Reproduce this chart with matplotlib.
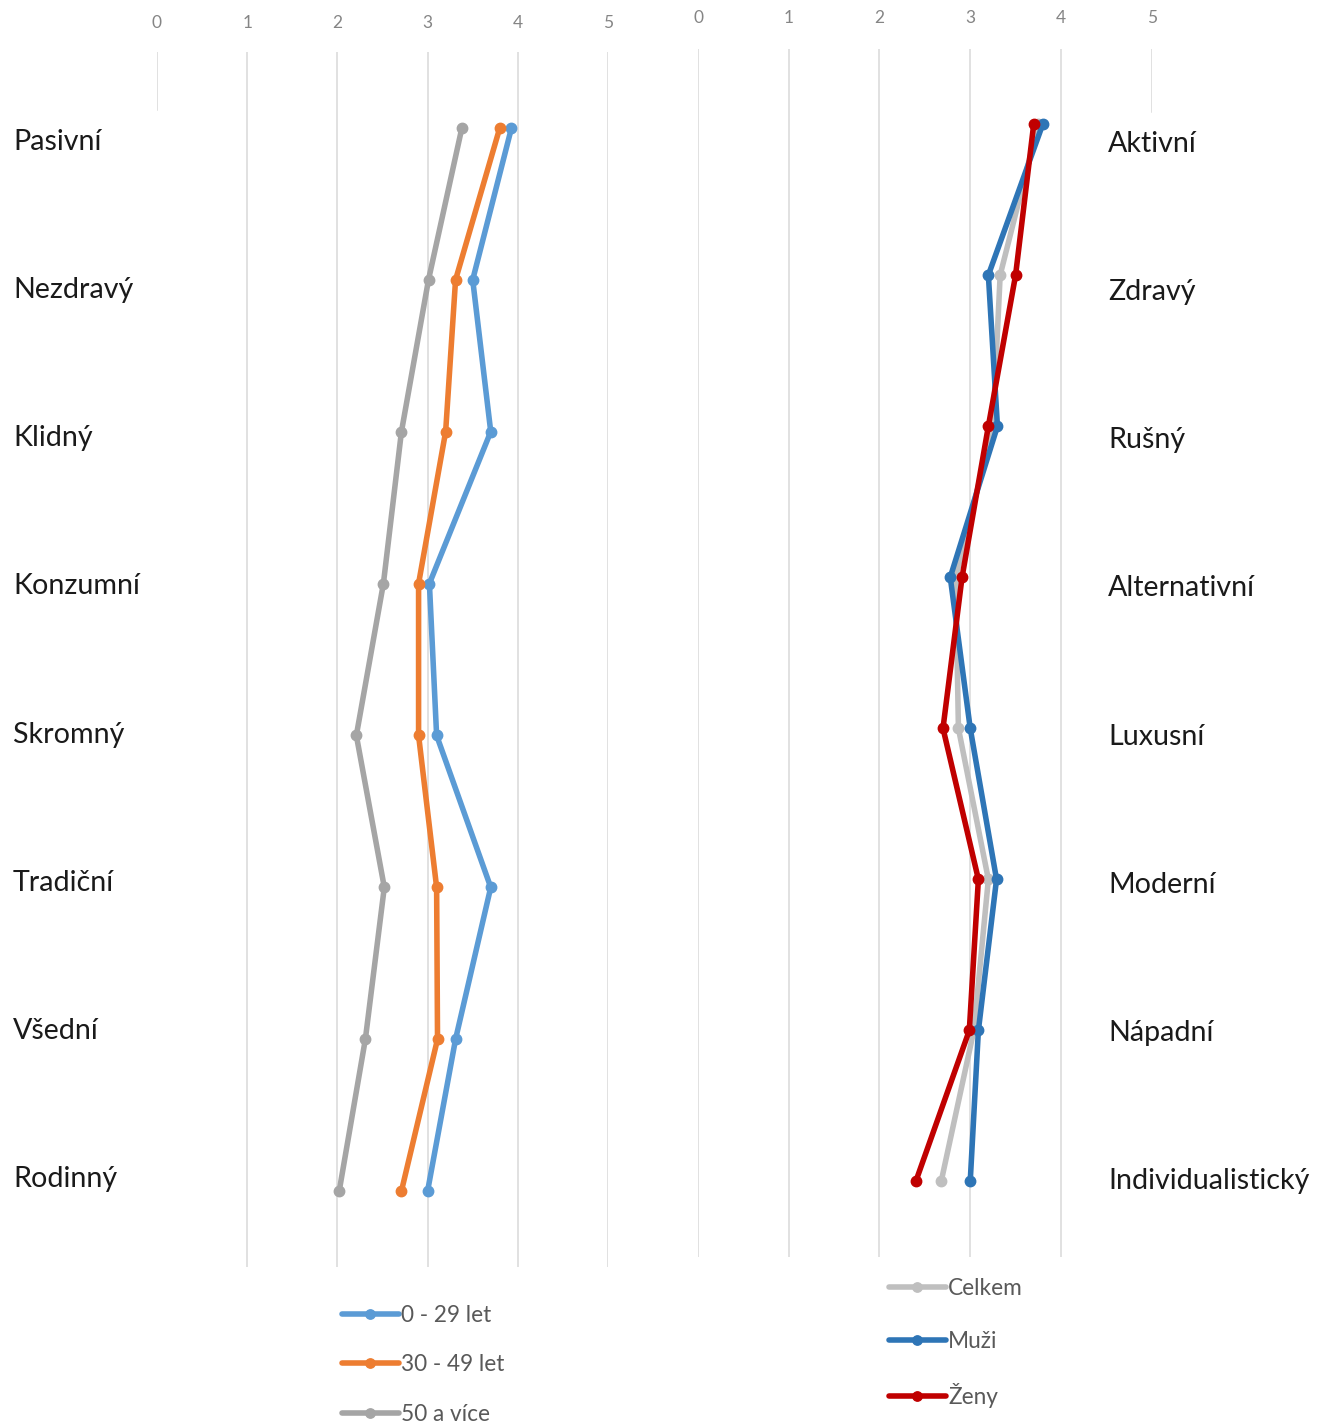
import numpy as np
import matplotlib
matplotlib.use('Agg')
import matplotlib.pyplot as plt

plt.rcParams['font.family'] = ['Lato', 'DejaVu Sans']

# left chart - age groups
left_labels = ['Pasivní', 'Nezdravý', 'Klidný', 'Konzumní', 'Skromný', 'Tradiční', 'Všední', 'Rodinný']
age_0_29 = [3.93, 3.50, 3.70, 3.02, 3.10, 3.70, 3.31, 3.00]
age_30_49 = [3.80, 3.31, 3.20, 2.90, 2.90, 3.10, 3.11, 2.71]
age_50 = [3.38, 3.01, 2.71, 2.51, 2.21, 2.52, 2.31, 2.02]

# right chart - gender
right_labels = ['Aktivní', 'Zdravý', 'Rušný', 'Alternativní', 'Luxusní', 'Moderní', 'Nápadní', 'Individualistický']
celkem = [3.75, 3.33, 3.25, 2.84, 2.87, 3.20, 3.04, 2.68]
muzi = [3.80, 3.20, 3.30, 2.78, 3.00, 3.29, 3.09, 3.00]
zeny = [3.70, 3.50, 3.20, 2.91, 2.70, 3.09, 2.99, 2.40]

ticks = [0, 1, 2, 3, 4, 5]

W, H = 1329, 1423
fig = plt.figure(figsize=(W / 100, H / 100), dpi=100)
fig.patch.set_facecolor('white')

grid_col = '#D9D9D9'
tick_col = '#858585'
leg_col = '#595959'


def setup_axes(ax, short_tick, short_frac, pad):
    ax.set_xlim(0, 5)
    ax.set_ylim(7.5, -0.5)
    for s in ax.spines.values():
        s.set_visible(False)
    ax.set_yticks([])
    ax.xaxis.tick_top()
    ax.set_xticks(ticks)
    ax.tick_params(axis='x', length=0, pad=pad, labelsize=12.5, labelcolor=tick_col)
    for t in ticks:
        if t == short_tick:
            ax.axvline(t, ymin=short_frac, ymax=1, color=grid_col, lw=1.1, zorder=0)
        else:
            ax.axvline(t, color=grid_col, lw=1.1, zorder=0)


def draw(ax, values, color, label):
    y = np.arange(len(values))
    ax.plot(values, y, color=color, lw=4.0, marker='o', ms=7.5,
            solid_joinstyle='round', solid_capstyle='round', label=label)


# left panel
ax1 = fig.add_axes([157 / W, (H - 1267) / H, 451 / W, (1267 - 52) / H])
setup_axes(ax1, 0, 1 - (110 - 52) / (1267 - 52), 15)
draw(ax1, age_0_29, '#5B9BD5', '0 - 29 let')
draw(ax1, age_30_49, '#ED7D31', '30 - 49 let')
draw(ax1, age_50, '#A5A5A5', '50 a více')

# right panel
ax2 = fig.add_axes([698 / W, (H - 1257) / H, 453.7 / W, (1257 - 48.5) / H])
setup_axes(ax2, 5, 1 - (112 - 48.5) / (1257 - 48.5), 16.5)
draw(ax2, celkem, '#BFBFBF', 'Celkem')
draw(ax2, muzi, '#2E75B6', 'Muži')
draw(ax2, zeny, '#C00000', 'Ženy')

# category labels on both sides
for lab, py in zip(left_labels, np.linspace(142, 1179, len(left_labels))):
    fig.text(13 / W, 1 - py / H, lab, fontsize=20.6, color='#1a1a1a', va='center', ha='left')
for lab, py in zip(right_labels, np.linspace(144, 1181, len(right_labels))):
    fig.text(1108 / W, 1 - py / H, lab, fontsize=20.6, color='#1a1a1a', va='center', ha='left')

leg1 = ax1.legend(loc='upper left', bbox_to_anchor=(342 / W, 1 - 1305 / H),
                  bbox_transform=fig.transFigure, frameon=False, fontsize=16.3,
                  handlelength=2.5, handletextpad=0.12, labelspacing=1.25,
                  borderpad=0, borderaxespad=0, markerscale=0.9)
leg2 = ax2.legend(loc='upper left', bbox_to_anchor=(889 / W, 1 - 1278 / H),
                  bbox_transform=fig.transFigure, frameon=False, fontsize=16.3,
                  handlelength=2.5, handletextpad=0.12, labelspacing=1.40,
                  borderpad=0, borderaxespad=0, markerscale=0.9)
for leg in (leg1, leg2):
    for t in leg.get_texts():
        t.set_color(leg_col)

fig.savefig('out.png', dpi=100, facecolor='white')
